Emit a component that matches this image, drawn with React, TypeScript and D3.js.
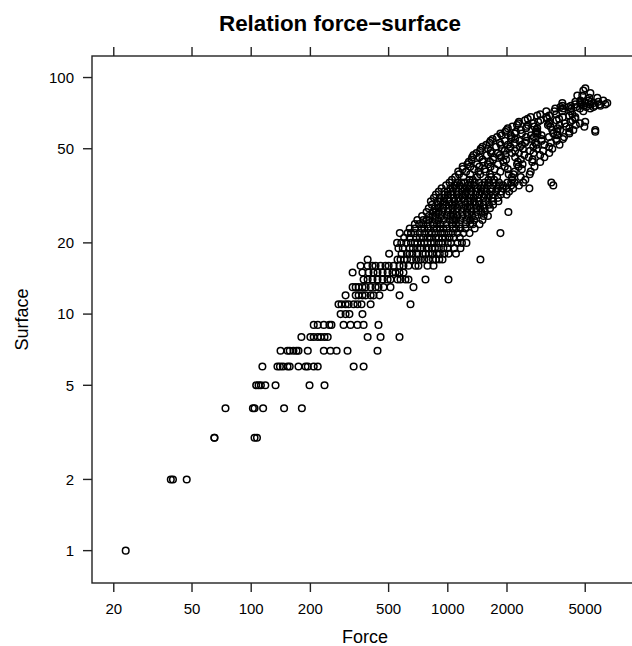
import React from 'react';
import * as d3 from 'd3';

// values: one row per surface level, force values in it
const surfaceLevels = [
  1, 2, 3, 4, 5, 6, 7, 8, 9, 10, 11, 12, 13, 14, 15, 16,
  17, 18, 19, 20, 21, 22, 23, 24, 25, 26, 27, 28, 29, 30,
  31, 32, 33, 34, 35, 36, 37, 38, 39, 40, 41, 42, 43, 44, 45,
  46, 47, 48, 49, 50, 51, 52, 53, 54, 55, 56, 57, 58, 59, 60,
  61, 62, 63, 64, 65, 66, 67, 68, 69, 70, 72, 74, 75, 76, 77,
  78, 79, 80, 82, 84, 86, 88, 90,
];

const forceByLevel = [
  [23],
  [39, 40, 47],
  [65, 65, 104, 107],
  [74, 102, 104, 115, 147, 181],
  [106, 109, 112, 118, 133, 198, 236],
  [114, 136, 140, 145, 153, 157, 174, 189, 194, 208, 218, 332, 373],
  [141, 153, 157, 164, 170, 174, 194, 234, 253, 272, 309, 439],
  [180, 200, 208, 218, 226, 236, 245, 391, 455, 568],
  [208, 218, 234, 250, 256, 295, 320, 347, 373, 444],
  [285, 302, 316, 368],
  [278, 288, 302, 313, 332, 347, 364, 405, 646],
  [302, 340, 352, 368, 382, 405, 419, 449, 568],
  [328, 340, 352, 368, 382, 405, 429, 444, 471, 511, 669],
  [373, 391, 414, 439, 466, 494, 511, 555, 575, 609, 631, 770, 1008],
  [328, 368, 395, 419, 439, 466, 494, 523, 542, 568, 595],
  [360, 391, 414, 429, 455, 482, 500, 530, 568, 595, 631, 685, 709, 788, 846],
  [391, 555, 575, 600, 620, 650, 690, 712, 730, 760, 800, 840, 870, 905, 940, 1465],
  [503, 582, 620, 640, 660, 700, 745, 770, 800, 835, 880, 910, 960, 1010, 1100],
  [561, 590, 640, 665, 700, 730, 780, 800, 830, 860, 900, 950, 995, 1080, 1160],
  [552, 580, 615, 650, 680, 700, 730, 760, 790, 820, 850, 900, 940, 1000, 1040, 1120, 1180, 1244],
  [600, 640, 690, 720, 750, 790, 820, 870, 900, 935, 970, 1020, 1075, 1150],
  [570, 625, 650, 680, 720, 760, 800, 830, 870, 920, 960, 1010, 1060, 1120, 1200, 1290, 1852],
  [640, 680, 735, 760, 800, 850, 880, 910, 950, 990, 1060, 1100, 1160, 1230, 1370],
  [680, 715, 750, 790, 840, 880, 920, 985, 1050, 1100, 1150, 1230, 1300, 1340, 1450],
  [700, 750, 780, 805, 860, 900, 950, 1020, 1060, 1100, 1160, 1240, 1300, 1360, 1500],
  [740, 800, 840, 870, 930, 985, 1030, 1070, 1120, 1190, 1260, 1330, 1380, 1520, 1600],
  [780, 840, 870, 900, 940, 1000, 1060, 1110, 1180, 1250, 1320, 1400, 1480, 1540, 2033],
  [800, 860, 900, 950, 1010, 1060, 1120, 1200, 1260, 1310, 1400, 1460, 1540, 1640],
  [830, 890, 940, 980, 1050, 1100, 1150, 1230, 1300, 1380, 1440, 1520, 1620, 1700],
  [820, 890, 920, 960, 1020, 1080, 1130, 1220, 1260, 1300, 1360, 1440, 1560, 1700, 1810],
  [850, 910, 960, 1000, 1070, 1130, 1190, 1290, 1350, 1420, 1520, 1600, 1690, 1800],
  [870, 960, 1000, 1040, 1110, 1170, 1230, 1300, 1380, 1450, 1540, 1620, 1700, 1860, 1990],
  [900, 960, 1000, 1060, 1130, 1190, 1250, 1320, 1400, 1480, 1570, 1660, 1760, 1870, 2050],
  [930, 1030, 1060, 1100, 1220, 1250, 1290, 1420, 1470, 1530, 1680, 1800, 1900, 1990, 2150, 2600],
  [980, 1080, 1110, 1150, 1270, 1310, 1360, 1490, 1540, 1600, 1760, 1840, 1910, 2100, 2300, 3440],
  [1020, 1120, 1170, 1220, 1300, 1370, 1440, 1540, 1620, 1700, 1820, 2010, 2100, 2190, 2420, 3362],
  [1050, 1290, 1340, 1610, 1720, 2130, 2480],
  [1090, 1200, 1410, 1660, 1780, 2120, 2350],
  [1140, 1300, 1460, 1640, 2040, 2160, 2610],
  [1130, 1240, 1431, 1560, 1850, 2190, 2640],
  [1190, 1360, 1540, 1730, 2020, 2380],
  [1190, 1300, 1448, 1650, 1950, 2290, 2760],
  [1258, 1410, 1600, 1800, 2250, 2400],
  [1280, 1510, 1640, 1920, 2270, 2690, 2950],
  [1320, 1500, 1700, 1980, 2350, 2700],
  [1330, 1450, 1720, 1870, 2200, 2580, 3100],
  [1350, 1580, 1840, 1960, 2450, 2950],
  [1400, 1660, 1800, 2120, 2300, 2730, 3280],
  [1460, 1650, 1950, 2200, 2620, 3050],
  [1470, 1600, 1880, 2050, 2410, 2840, 3400],
  [1500, 1760, 2080, 2330, 2720, 3280],
  [1570, 1860, 2020, 2380, 2830, 3100, 3700],
  [1630, 1840, 2190, 2470, 2780, 3350],
  [1650, 1950, 2310, 2510, 3000, 3580],
  [1690, 2100, 2200, 2680, 3000, 3560, 3850],
  [1780, 2110, 2500, 2740, 3270, 3900],
  [1880, 2090, 2650, 3000, 3600],
  [1850, 2190, 2380, 2860, 3440, 4150],
  [1960, 2220, 2800, 2850, 3600, 4150, 5624],
  [1990, 2350, 2820, 3400, 3730, 4350, 5624],
  [2020, 2500, 2850, 3620, 4150],
  [2130, 2520, 2760, 3330, 4010, 4950],
  [2250, 2560, 3230, 3700, 4480],
  [2280, 2720, 3270, 3940, 4700],
  [2300, 2880, 3300, 4200, 5000],
  [2470, 2960, 3570, 4300],
  [2550, 3200, 3680, 4450],
  [2640, 3180, 3840, 4450],
  [2850, 3280, 4150],
  [2950, 3560, 4300],
  [3170, 3480, 3820, 4200, 4890],
  [3520, 3860, 4250, 4700, 5300],
  [3740, 4100, 4500, 5060, 5500],
  [3830, 4230, 4900, 5600, 5970],
  [4450, 4800, 5300, 5900, 6330],
  [3824, 4720, 5006, 5498, 6474],
  [4453, 4950, 5350, 5826],
  [4721, 5200, 6177],
  [5245, 5757],
  [4558, 4832],
  [5310],
  [4890],
  [5006],
];

const forceTicks = [20, 50, 100, 200, 500, 1000, 2000, 5000];
const surfaceTicks = [1, 2, 5, 10, 20, 50, 100];

const width = 632;
const height = 646;
// right edge of the panel lies past the picture, as in the reference
const panel = { left: 92, right: 641, top: 56, bottom: 583 };
const font = 'Liberation Sans, Arial, Helvetica, sans-serif';
const ink = '#222';

// lattice-style log limits: data range padded by 7% on each side
const paddedLog = (vals: number[]) => {
  const [lo, hi] = d3.extent(vals.map(Math.log10)) as [number, number];
  const pad = 0.07 * (hi - lo);
  return [Math.pow(10, lo - pad), Math.pow(10, hi + pad)];
};

export default function App() {
  const points = surfaceLevels.flatMap((s, i) =>
    forceByLevel[i].map(f => ({ force: f, surface: s }))
  );

  const x = d3.scaleLog()
    .domain(paddedLog(points.map(p => p.force)))
    .range([panel.left, panel.right]);
  const y = d3.scaleLog()
    .domain(paddedLog(points.map(p => p.surface)))
    .range([panel.bottom, panel.top]);

  const tick = 9;

  return (
    <svg width={width} height={height}
      style={{ position: 'absolute', left: 0, top: 0, background: '#fff', overflow: 'hidden' }}
      fontFamily={font}>
      <text x={340} y={31} textAnchor="middle" fontSize={22.4} fontWeight="bold">
        Relation force−surface
      </text>

      <rect x={panel.left} y={panel.top}
        width={panel.right - panel.left} height={panel.bottom - panel.top}
        fill="none" stroke={ink} strokeWidth={1.4} />

      {forceTicks.map(t => (
        <g key={'x' + t}>
          <line x1={x(t)} x2={x(t)} y1={panel.bottom} y2={panel.bottom + tick} stroke={ink} strokeWidth={1.4} />
          <line x1={x(t)} x2={x(t)} y1={panel.top} y2={panel.top - tick} stroke={ink} strokeWidth={1.4} />
          <text x={x(t)} y={614} textAnchor="middle" fontSize={15}>{t}</text>
        </g>
      ))}

      {surfaceTicks.map(t => (
        <g key={'y' + t}>
          <line x1={panel.left} x2={panel.left - tick} y1={y(t)} y2={y(t)} stroke={ink} strokeWidth={1.4} />
          <line x1={panel.right} x2={panel.right + tick} y1={y(t)} y2={y(t)} stroke={ink} strokeWidth={1.4} />
          <text x={74} y={y(t)} dy="0.36em" textAnchor="end" fontSize={15}>{t}</text>
        </g>
      ))}

      <g fill="none" stroke="#000" strokeWidth={1.5}>
        {points.map((p, i) => (
          <circle key={i} cx={x(p.force)} cy={y(p.surface)} r={3.3} />
        ))}
      </g>

      <text x={365} y={643} textAnchor="middle" fontSize={18}>Force</text>
      <text transform={`translate(28,${(panel.top + panel.bottom) / 2}) rotate(-90)`}
        textAnchor="middle" fontSize={18}>Surface</text>
    </svg>
  );
}
